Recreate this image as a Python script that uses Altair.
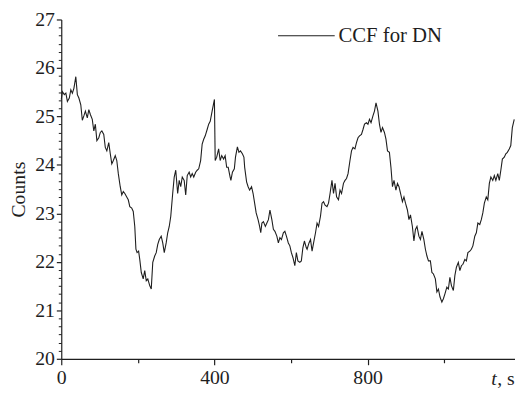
import altair as alt
import pandas as pd

# ---- data ----
t_s = [0, 3, 8, 12, 16, 21, 25, 29, 33, 38, 42, 46, 51, 55, 59, 63, 68, 72, 76, 81,
       85, 89, 93, 98, 102, 106, 111, 115, 119, 124, 128, 132, 136, 141, 145, 149, 154, 158, 162, 166,
       171, 175, 179, 184, 188, 192, 195, 198, 202, 205, 209,
       214, 218, 222, 226, 231, 235, 239, 244, 248, 252, 256, 261, 265, 269, 274, 278, 282, 286, 291,
       295, 299, 304, 308, 312, 316, 321, 325, 329, 334, 338, 342, 346, 351, 355, 359, 364, 368, 372,
       376, 381, 385, 389, 394, 400, 402, 406, 411, 415, 419, 424, 428, 432,
       436, 441, 443, 447, 452, 455, 460, 464, 468, 473, 477, 479, 484, 488, 492, 497, 501, 505, 509,
       514, 518, 521, 524, 528, 533, 537, 541, 545, 550, 554, 558, 563, 567, 571, 575, 580, 584, 588,
       593, 597, 601, 605, 610, 614, 618, 623, 627, 631, 635, 640,
       642, 647, 651, 655, 659, 664, 668, 672, 677, 681, 685, 689, 694, 698, 702, 707, 711, 715, 719,
       724, 728, 732, 737, 741, 745, 749, 754, 758, 762, 767, 771, 775, 779, 784, 788, 792, 797, 801,
       805, 809, 814, 818, 822, 827, 831, 835, 839, 844, 848, 852, 857, 861, 865,
       869, 874, 878, 882, 887, 891, 895, 899, 904, 908, 912, 917, 921, 925, 929, 934, 938, 942, 947,
       951, 955, 959, 964, 968, 972, 977, 981, 985, 989, 994, 998, 1002, 1007, 1011, 1015, 1019, 1024,
       1028, 1032, 1037, 1041, 1045, 1049, 1054, 1058, 1062, 1067, 1071, 1075, 1080, 1084, 1088,
       1093, 1097, 1101, 1105, 1110, 1114, 1118, 1122, 1127, 1131, 1135, 1140, 1144, 1148, 1152, 1157,
       1161, 1165, 1170, 1174, 1178, 1183]

counts = [25.35, 25.51, 25.45, 25.48, 25.31, 25.38, 25.55, 25.48, 25.58, 25.82, 25.45, 25.38, 25.24, 24.92,
          25.01, 25.11, 24.97, 25.14, 25.04, 24.94,
          24.70, 24.84, 24.50, 24.56, 24.67, 24.70, 24.63, 24.36, 24.29, 24.46, 24.23, 24.02, 24.09, 24.19,
          24.09, 23.82, 23.55, 23.38, 23.45, 23.41,
          23.34, 23.28, 23.14, 23.11, 23.04, 22.73, 22.26, 22.19, 22.22, 22.05, 21.78,
          21.65, 21.82, 21.61, 21.65, 21.51, 21.44, 21.99, 22.12, 22.19, 22.36, 22.46, 22.53, 22.39, 22.19,
          22.39, 22.60, 22.73, 22.94, 23.41,
          23.75, 23.89, 23.41, 23.68, 23.55, 23.75, 23.68, 23.38, 23.78, 23.85, 23.75, 23.82, 23.75, 23.85,
          23.89, 23.92, 24.09, 24.43, 24.53,
          24.60, 24.73, 24.84, 24.90, 25.11, 25.35, 24.09, 24.16, 24.33, 24.09, 24.19, 24.12, 24.19, 23.95,
          23.95, 23.75, 23.68, 23.85, 23.92, 24.16, 24.37, 24.26, 24.29, 24.23, 24.16, 23.95, 23.65, 23.55,
          23.48, 23.55, 23.41, 23.21, 23.01,
          22.87, 22.73, 22.60, 22.80, 22.83, 22.73, 22.80, 22.87, 23.07, 22.87, 22.67, 22.63, 22.53, 22.39,
          22.50, 22.46, 22.60, 22.63, 22.53,
          22.39, 22.33, 22.19, 22.09, 21.92, 22.19, 22.02, 21.99, 22.02, 22.29, 22.43, 22.29,
          22.26, 22.39, 22.46, 22.22, 22.39, 22.60, 22.80, 22.73, 22.94, 23.21, 23.24, 23.17, 23.14, 23.21,
          23.41, 23.68, 23.41, 23.62, 23.34,
          23.28, 23.48, 23.41, 23.62, 23.68, 23.72, 23.82, 24.09, 24.29, 24.36, 24.33, 24.46, 24.56, 24.60,
          24.63, 24.73, 24.84, 24.87, 24.84,
          24.94, 24.87, 25.01, 25.11, 25.28, 25.11, 24.84, 24.67, 24.77, 24.67, 24.53, 24.29, 24.26, 23.95,
          23.55,
          23.68, 23.48, 23.62, 23.55, 23.38, 23.24, 23.34, 23.21, 23.07, 22.87, 22.97, 22.73, 22.43, 22.67,
          22.73, 22.53, 22.46, 22.63, 22.46,
          22.26, 22.12, 22.02, 22.02, 21.78, 21.75, 21.65, 21.38, 21.44, 21.28, 21.17, 21.24, 21.34, 21.48,
          21.44, 21.68, 21.51, 21.41,
          21.72, 21.89, 21.99, 21.82, 21.92, 21.95, 22.05, 22.02, 22.19, 22.22, 22.26, 22.33, 22.53, 22.60,
          22.80,
          22.77, 22.87, 23.01, 23.21, 23.34, 23.28, 23.62, 23.75, 23.68, 23.78, 23.68, 23.82, 23.68, 23.89,
          24.12, 24.16,
          24.23, 24.26, 24.33, 24.40, 24.77, 24.94]

series_name = ["CCF for DN"]
x_major = [0, 400, 800]
x_minor = [200, 600, 1000]
y_major = [20, 21, 22, 23, 24, 25, 26, 27]
y_minor = [20 + i / 6 for i in range(42) if i % 6 != 0]
y_title = "Counts"
x_title_italic = ["t"]
x_title_rest = [", s"]

FONT = "Liberation Serif"
INK = "#1e1e1e"

df = pd.DataFrame({"t": t_s, "counts": counts, "series": series_name * len(t_s)})

xs = alt.Scale(domain=[0, 1185], nice=False, zero=False)
ys = alt.Scale(domain=[20, 27], nice=False, zero=False)

main = alt.Chart(df).mark_line(strokeWidth=1.1).encode(
    x=alt.X("t:Q", scale=xs,
            axis=alt.Axis(values=x_major, title=None, grid=False, tickSize=6, labelFlush=False,
                          labelFont=FONT, labelFontSize=20, labelColor=INK, labelPadding=3,
                          domainColor=INK, tickColor=INK, domainWidth=1.2, tickWidth=1.2)),
    y=alt.Y("counts:Q", scale=ys,
            axis=alt.Axis(values=y_major, title=y_title, grid=False, tickSize=5,
                          labelFont=FONT, labelFontSize=20, labelColor=INK, labelPadding=2,
                          titleFont=FONT, titleFontSize=20, titleFontWeight="normal",
                          titleColor=INK, titlePadding=6,
                          domainColor=INK, tickColor=INK, domainWidth=1.2, tickWidth=1.2)),
    color=alt.Color("series:N", scale=alt.Scale(domain=series_name, range=[INK]),
                    legend=alt.Legend(title=None, orient="none", legendX=219, legendY=-13,
                                      symbolType="stroke", symbolSize=3300, symbolStrokeWidth=1.1,
                                      labelFont=FONT, labelFontSize=21, labelColor=INK,
                                      labelOffset=3, padding=0)),
)

minor = alt.Chart(df).mark_line(strokeOpacity=0).encode(
    x=alt.X("t:Q", scale=xs,
            axis=alt.Axis(values=x_minor, title=None, labels=False, domain=False, grid=False,
                          tickSize=4, tickColor=INK, tickWidth=1.2, orient="bottom")),
    y=alt.Y("counts:Q", scale=ys,
            axis=alt.Axis(values=y_minor, title=None, labels=False, domain=False, grid=False,
                          tickSize=3, tickColor=INK, tickWidth=1, orient="left")),
)

lab_df = pd.DataFrame({"a": x_title_italic, "b": x_title_rest})
t_italic = alt.Chart(lab_df).mark_text(font=FONT, fontSize=20, fontStyle="italic", align="left",
                                       baseline="alphabetic", color=INK).encode(
    text="a:N", x=alt.value(436), y=alt.value(371))
t_rest = alt.Chart(lab_df).mark_text(font=FONT, fontSize=20, align="left",
                                     baseline="alphabetic", color=INK).encode(
    text="b:N", x=alt.value(442), y=alt.value(371))

chart = alt.layer(main, minor, t_italic, t_rest).resolve_axis(
    x="independent", y="independent"
).properties(
    width=460, height=344,
    autosize=alt.AutoSizeParams(type="none"),
    padding={"left": 54, "top": 9, "right": 0, "bottom": 30},
    background="white",
).configure_view(stroke=None).configure_legend(labelFont=FONT, labelFontSize=21, labelColor=INK)

chart.save("out.html", embed_options={"renderer": "svg", "actions": False})
